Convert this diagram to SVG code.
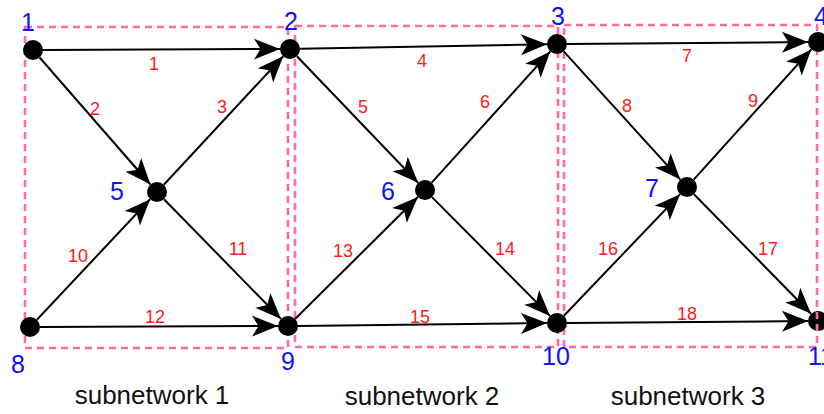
<svg xmlns="http://www.w3.org/2000/svg" width="824" height="414" viewBox="0 0 824 414">
<style>
.e{stroke:#000;stroke-width:2;fill:none;marker-end:url(#arr)}
.n{fill:#000}
.box{fill:none;stroke:#ff69a4;stroke-width:2.6;stroke-dasharray:7 5}
.nl{font-family:"Liberation Sans",Arial,sans-serif;font-size:25px;fill:#1010ff;text-anchor:middle}
.el{font-family:"Liberation Sans",Arial,sans-serif;font-size:18px;fill:#ff1a1a;text-anchor:middle}
.sl{font-family:"Liberation Sans",Arial,sans-serif;font-size:26px;fill:#111;text-anchor:middle}
</style>
<defs>
<marker id="arr" markerUnits="userSpaceOnUse" markerWidth="30" markerHeight="24" viewBox="0 0 30 24" refX="27" refY="12" orient="auto">
<path d="M27,12 L1,1.5 L7.5,12 L1,22.5 Z" fill="#000"/>
</marker>
</defs>
<rect width="824" height="414" fill="#fff"/>
<g id="node11"><circle class="n" cx="818" cy="321" r="10"/></g>
<g id="subnetworks">
<rect class="box" x="25" y="27" width="263" height="321"/>
<rect class="box" x="295" y="26" width="263" height="321"/>
<rect class="box" x="564" y="25" width="253" height="322"/>
</g>
<g id="connectors">
<line class="e" x1="43" y1="50" x2="280" y2="49"/>
<line class="e" x1="39.6" y1="57.5" x2="150.4" y2="184.5"/>
<line class="e" x1="163.8" y1="184.7" x2="283.2" y2="56.3"/>
<line class="e" x1="300" y1="48.8" x2="547" y2="44.2"/>
<line class="e" x1="296.9" y1="56.2" x2="418.1" y2="182.8"/>
<line class="e" x1="431.7" y1="182.6" x2="550.3" y2="51.4"/>
<line class="e" x1="567" y1="44" x2="808" y2="42.1"/>
<line class="e" x1="563.7" y1="51.4" x2="680.3" y2="179.6"/>
<line class="e" x1="693.7" y1="179.6" x2="811.3" y2="49.4"/>
<line class="e" x1="36.9" y1="319.7" x2="150.1" y2="199.3"/>
<line class="e" x1="164" y1="199.2" x2="281" y2="318.9"/>
<line class="e" x1="40" y1="327" x2="278" y2="326"/>
<line class="e" x1="295.1" y1="319" x2="417.9" y2="197"/>
<line class="e" x1="432" y1="197.1" x2="550" y2="315.9"/>
<line class="e" x1="298" y1="326" x2="547" y2="323.1"/>
<line class="e" x1="563.9" y1="315.8" x2="680.1" y2="194.2"/>
<line class="e" x1="694" y1="194.2" x2="811" y2="313.8"/>
<line class="e" x1="567" y1="323" x2="808" y2="321.1"/>
</g>
<g id="edge-labels">
<text class="el" x="154" y="70">1</text>
<text class="el" x="95" y="115">2</text>
<text class="el" x="222" y="113">3</text>
<text class="el" x="422" y="67">4</text>
<text class="el" x="363" y="113">5</text>
<text class="el" x="485" y="108">6</text>
<text class="el" x="687" y="62">7</text>
<text class="el" x="627" y="112">8</text>
<text class="el" x="753" y="107">9</text>
<text class="el" x="78" y="262">10</text>
<text class="el" x="238" y="255">11</text>
<text class="el" x="155" y="323">12</text>
<text class="el" x="343" y="257">13</text>
<text class="el" x="505" y="255">14</text>
<text class="el" x="420" y="323">15</text>
<text class="el" x="608" y="255">16</text>
<text class="el" x="768" y="255">17</text>
<text class="el" x="687" y="320">18</text>
</g>
<g id="node1"><circle class="n" cx="33" cy="50" r="10"/><text class="nl" x="28" y="31">1</text></g>
<g id="node2"><circle class="n" cx="290" cy="49" r="10"/><text class="nl" x="291" y="30">2</text></g>
<g id="node3"><circle class="n" cx="557" cy="44" r="10"/><text class="nl" x="558" y="25">3</text></g>
<g id="node4"><circle class="n" cx="818" cy="42" r="10"/><text class="nl" x="821" y="25">4</text></g>
<g id="node5"><circle class="n" cx="157" cy="192" r="10"/><text class="nl" x="117" y="200">5</text></g>
<g id="node6"><circle class="n" cx="425" cy="190" r="10"/><text class="nl" x="388" y="200">6</text></g>
<g id="node7"><circle class="n" cx="687" cy="187" r="10"/><text class="nl" x="652" y="197">7</text></g>
<g id="node8"><circle class="n" cx="30" cy="327" r="10"/><text class="nl" x="18" y="373">8</text></g>
<g id="node9"><circle class="n" cx="288" cy="326" r="10"/><text class="nl" x="288" y="370">9</text></g>
<g id="node10"><circle class="n" cx="557" cy="323" r="10"/><text class="nl" x="556" y="365">10</text></g>
<g id="node11-label"><text class="nl" x="821" y="365">11</text></g>
<g id="captions">
<text class="sl" x="152" y="404">subnetwork 1</text>
<text class="sl" x="422" y="405">subnetwork 2</text>
<text class="sl" x="688" y="405">subnetwork 3</text>
</g>
</svg>
